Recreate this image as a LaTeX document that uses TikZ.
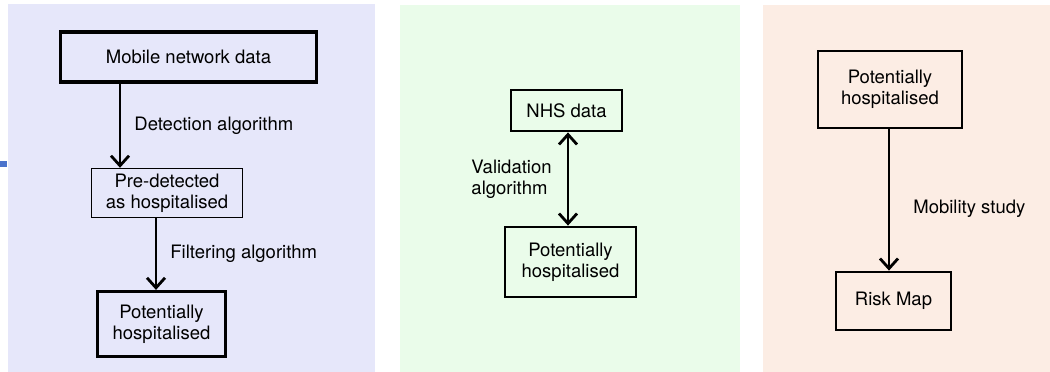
\documentclass[tikz,border=0pt]{standalone}
\usepackage{fontspec}
\setmainfont{TeX Gyre Heros}
\usepackage{tikz}
\usepackage{xcolor}
\usetikzlibrary{arrows.meta}

\definecolor{lavender}{RGB}{230,231,250}
\definecolor{mint}{RGB}{234,252,234}
\definecolor{peach}{RGB}{252,237,228}
\definecolor{tickblue}{RGB}{74,114,204}

\tikzset{
  box/.style={draw=black,line width=3.2pt,align=center,inner sep=0pt},
  thinbox/.style={draw=black,line width=1.4pt,align=center,inner sep=0pt},
  flow/.style={line width=2.8pt,-{Straight Barb[length=10pt,width=18pt]}},
  both/.style={line width=2.8pt,{Straight Barb[length=10pt,width=18pt]}-{Straight Barb[length=10pt,width=18pt]}},
  lab/.style={inner sep=0pt,align=left}
}

\begin{document}
\begin{tikzpicture}[x=1pt,y=-1pt,font=\fontsize{18.5}{21}\selectfont]
            \useasboundingbox (0,0) rectangle (1050,372);
            % panels
            \fill[lavender] (8,4) rectangle (375,372);
            \fill[mint] (400,5) rectangle (740,372);
            \fill[peach] (763,5) rectangle (1050,372);
            \fill[tickblue] (0,161) rectangle (7,167);
            % first panel
            \node[box,minimum width=256pt,minimum height=50pt] (mnd) at (188.5,57) {Mobile network data};
            \node[thinbox,minimum width=151pt,minimum height=49pt] (pre) at (167,193) {Pre-detected\\as hospitalised};
            \node[box,minimum width=128pt,minimum height=65pt] (pot) at (161.5,324) {Potentially\\hospitalised};
            \draw[flow] ([xshift=-47pt]pre.north |- mnd.south) -- node[lab,right=13pt] (det) {Detection algorithm} ([xshift=-47pt]pre.north);
            \draw[flow] ([xshift=-11pt]pre.south) -- node[lab,right=13pt] (fil) {Filtering algorithm} ([xshift=-11pt]pre.south |- pot.north);
            % second panel
            \node[box,line width=2.8pt,minimum width=111pt,minimum height=41pt] (nhs) at (566.5,110.5) {NHS data};
            \node[box,line width=2.8pt,minimum width=131pt,minimum height=70pt] (potb) at (570.5,262) {Potentially\\hospitalised};
            \draw[both] ([xshift=1.5pt]nhs.south) -- node[lab,left=15pt] (val) {Validation\\algorithm} ([xshift=1.5pt]nhs.south |- potb.north);
            % third panel
            \node[box,line width=2.8pt,minimum width=144pt,minimum height=77pt] (potc) at (890,89.5) {Potentially\\hospitalised};
            \node[box,line width=2.8pt,minimum width=115pt,minimum height=58pt] (risk) at (893.5,301) {Risk Map};
            \draw[flow] ([xshift=-1pt]potc.south) -- node[lab,pos=0.56,right=23pt] (mob) {Mobility study} ([xshift=-1pt]potc.south |- risk.north);
        \end{tikzpicture}
\end{document}
